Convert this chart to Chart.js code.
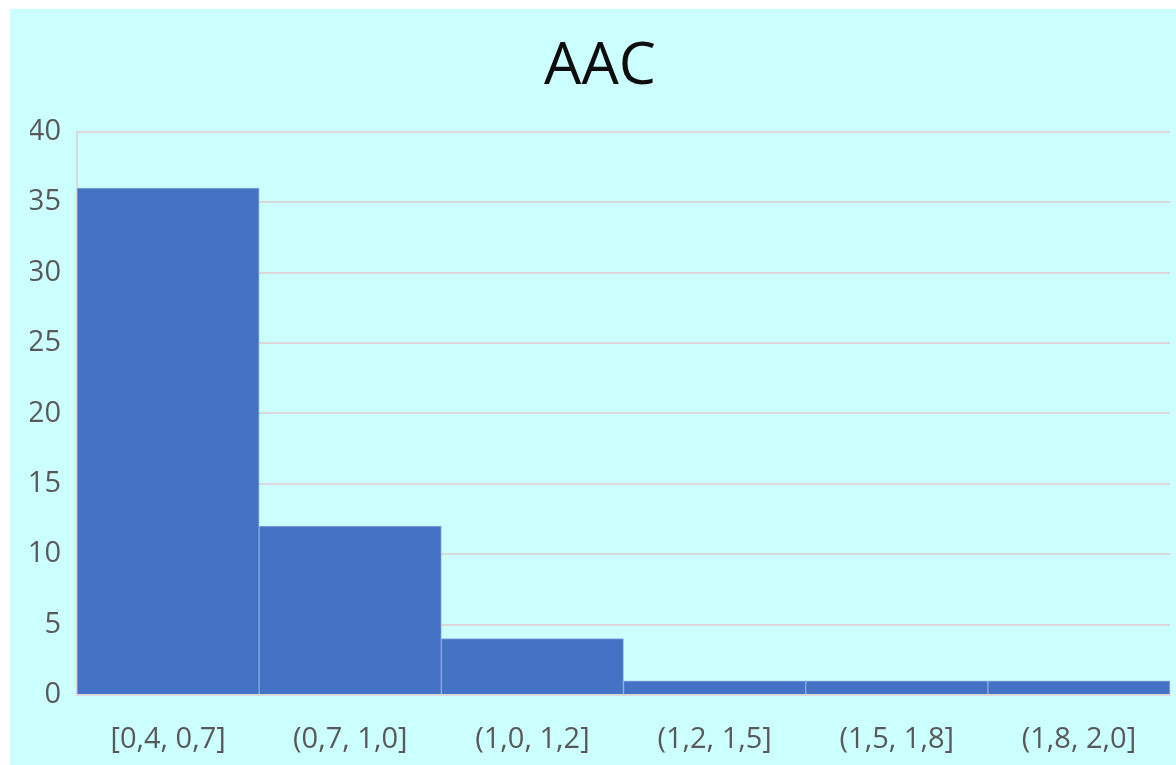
<!DOCTYPE html>
<html>
<head>
<meta charset="utf-8">
<script src="https://cdn.jsdelivr.net/npm/chart.js@4/dist/chart.umd.min.js"></script>
<style>
  html, body { margin: 0; padding: 0; background: #ffffff; }
  #wrap { position: absolute; left: 10px; top: 9px; width: 1166px; height: 756px; background: #ccffff; }
</style>
</head>
<body>
<div id="wrap"><canvas id="aacChart" width="1166" height="756"></canvas></div>
<script>
const categories = ['[0,4, 0,7]', '(0,7, 1,0]', '(1,0, 1,2]', '(1,2, 1,5]', '(1,5, 1,8]', '(1,8, 2,0]'];
const counts = [36, 12, 4, 1, 1, 1];
const yTicks = [0, 5, 10, 15, 20, 25, 30, 35, 40];

const ctx = document.getElementById('aacChart');
const tickFont = { family: "'Open Sans', sans-serif", size: 29 };

new Chart(ctx, {
    type: 'bar',
    data: {
        labels: categories,
        datasets: [{
            label: 'AAC',
            data: counts,
            backgroundColor: '#4472c4',
            borderColor: '#8eaadb',
            borderWidth: 1,
            barPercentage: 1,
            categoryPercentage: 1
        }]
    },
    options: {
        responsive: false,
        animation: false,
        layout: { padding: { right: 6, left: 20, top: 0, bottom: 0 } },
        plugins: {
            legend: { display: false },
            tooltip: { enabled: false },
            title: {
                display: true,
                text: 'AAC',
                color: '#0d0d0d',
                font: { family: "'Open Sans', sans-serif", size: 59, weight: 'normal' },
                padding: { top: 23, bottom: 29 }
            }
        },
        scales: {
            x: {
                grid: { display: false },
                border: { display: true, color: '#d9d9d9', width: 2 },
                ticks: { color: '#595959', font: tickFont, padding: 19, maxRotation: 0, autoSkip: false },
                afterFit: scale => { scale.height = 70; }
            },
            y: {
                min: 0,
                max: 40,
                afterBuildTicks: scale => { scale.ticks = yTicks.map(v => ({ value: v })); },
                grid: { color: '#d9d9d9', lineWidth: 2, drawTicks: false },
                border: { display: true, color: '#d9d9d9', width: 2 },
                ticks: { color: '#595959', font: tickFont, padding: 16 },
                afterFit: scale => { scale.width = 47; }
            }
        }
    }
});
</script>
</body>
</html>
